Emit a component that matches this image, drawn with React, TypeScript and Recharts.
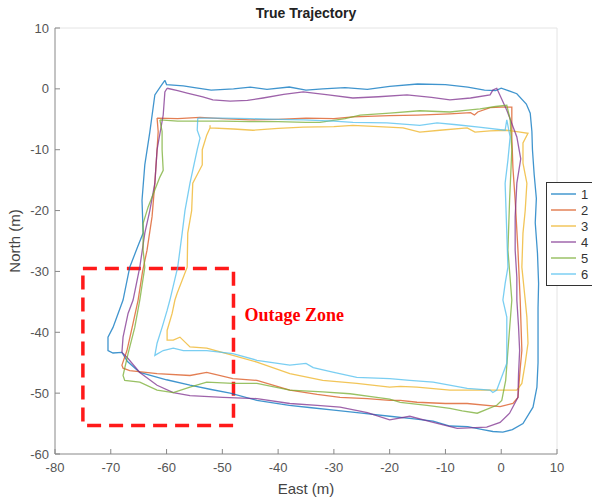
import { ScatterChart, Scatter, XAxis, YAxis, ReferenceArea, ReferenceLine } from 'recharts';

const xTicks = [-80, -70, -60, -50, -40, -30, -20, -10, 0, 10];
const yTicks = [-60, -50, -40, -30, -20, -10, 0, 10];
const seriesNames = ['1', '2', '3', '4', '5', '6'];
const seriesColors = ['#0072BD', '#D95319', '#EDB120', '#7E2F8E', '#77AC30', '#4DBEEE'];

// outage zone corners (m)
const zoneX = [-75, -48];
const zoneY = [-55.3, -29.5];

const pts = (a: number[][]) => a.map(([x, y]) => ({ x, y }));

const run1 = pts([
  [-60.3, 1.4], [-60, 0.7], [-57, 0.5], [-55, 0.2], [-52, -0.2], [-48, 0], [-45, 0.3], [-42, -0.1],
  [-38, 0.3], [-35, -0.2], [-32, 0], [-28, 0.2], [-24, -0.1], [-20, 0.4], [-15, 0.8], [-10, 0.7],
  [-6, 0.3], [-3, -0.2], [-1, -0.3], [0, 0.1], [1, -0.2], [2.8, -0.8], [4.5, -2.5], [5.2, -4],
  [5.5, -7], [5.6, -10], [5.9, -14], [6.3, -18], [6.1, -22], [6.5, -27], [6.7, -32], [6.6, -36],
  [6.6, -40], [6.6, -45], [6.4, -49], [5.7, -52.3], [3.9, -55], [2, -56], [0.3, -56.4], [-1.5, -56.3],
  [-3.3, -56], [-6, -55.5], [-9.2, -55.4], [-12.2, -54.6], [-16, -54.2], [-20, -53.8], [-25, -53.3],
  [-30, -52.8], [-34, -52.4], [-38, -52], [-43.8, -51.2], [-48.6, -50], [-52, -49.4], [-55.8, -48.7],
  [-60, -47.8], [-64.8, -46.6], [-67, -44.8], [-68, -43.3], [-69.6, -43.4], [-70.5, -43], [-70.5, -40.8],
  [-69.6, -39.2], [-67.8, -34.7], [-66.6, -29.3], [-65.2, -26], [-64.2, -23.7], [-64.4, -18.3],
  [-63.9, -12.5], [-63, -7.1], [-62.1, -1], [-61, 0.5], [-60.3, 1.4],
]);

const run2 = pts([
  [-61.7, -4.8], [-58, -4.9], [-54, -4.7], [-50, -4.9], [-45, -5.1], [-40, -5], [-35, -4.8], [-30, -4.9],
  [-26.6, -4.6], [-20, -4.4], [-15, -4.3], [-9.2, -4.1], [-5.5, -3.9], [-4.8, -4.3], [-4.2, -3.8],
  [-2, -3.1], [0, -3], [1.9, -3], [1.9, -7.9], [2.1, -13], [2.5, -18.3], [3, -26.5], [3.4, -34.7],
  [3.7, -43], [3.4, -46], [3, -50.7], [2.1, -51.7], [-0.2, -52.2], [-6.1, -51.7], [-10, -51.7],
  [-15.1, -51.5], [-18.1, -51.2], [-20, -51.2], [-24, -50.9], [-28.9, -50.7], [-33, -50.2], [-37.9, -49.5],
  [-43.8, -47.9], [-48.1, -47.6], [-52.8, -46.6], [-55.8, -47.1], [-61.7, -46.8], [-66.6, -46.3],
  [-67.8, -45.9], [-68, -45.4], [-67.1, -43], [-66, -38.5], [-65.1, -34.7], [-64.3, -30], [-63.5, -26.5],
  [-62.6, -21], [-62.1, -15.5], [-61.7, -10], [-61.5, -7], [-61.7, -4.8],
]);

const run3 = pts([
  [-52.2, -6], [-52.2, -6.4], [-48, -6.6], [-44.5, -6.8], [-40, -6.5], [-35.5, -6.3], [-30, -6.2],
  [-26.6, -6], [-22, -6.2], [-17.6, -6.4], [-14.6, -7.1], [-11, -6.8], [-6.1, -6.4], [-4.7, -7.1],
  [-2, -6.9], [1, -6.8], [3.4, -7.1], [4.8, -7.3], [3.9, -8.9], [3.9, -12.2], [4.6, -15.5], [4.3, -20],
  [3.9, -23.7], [3.7, -29.3], [4.3, -34.7], [4.6, -37.5], [4.8, -41.8], [4.3, -45.1], [3.7, -48.4],
  [2.8, -49.5], [-0.2, -49.5], [-2.6, -49.5], [-9.2, -49.5], [-15.1, -49], [-18.1, -48.9], [-20, -49],
  [-25.9, -48.4], [-32, -47.9], [-37.9, -46.8], [-43.8, -44.9], [-48.1, -43.8], [-52.8, -42.6],
  [-55.8, -42.4], [-57.6, -40.8], [-58.8, -41.3], [-59.9, -41.3], [-59.9, -39.7], [-59, -36.9],
  [-58.5, -34.7], [-58.1, -33.6], [-56.3, -29.3], [-56.2, -23.7], [-55.5, -20], [-55.3, -15.5],
  [-53.6, -12.5], [-53.6, -10], [-52.8, -7.6], [-52.2, -6.4],
]);

const run4 = pts([
  [-59.9, 0.1], [-58, -0.3], [-56.3, -0.7], [-53.5, -1.3], [-51.7, -1.8], [-48.6, -2], [-45.5, -1.9],
  [-42.7, -1.5], [-39, -0.9], [-35.5, -0.5], [-31, -1], [-26.6, -1.5], [-22, -1.3], [-16.9, -1],
  [-12.5, -1.4], [-9.2, -1.8], [-5.5, -1.5], [-2, -1], [-1.5, -0.2], [-0.8, 0.1], [1, -3.5], [2.8, -7.9],
  [3.5, -11.5], [2.8, -15.5], [2.5, -21], [2.5, -26.5], [2.8, -31], [2.8, -34.7], [3.1, -39], [3.3, -43],
  [3.1, -47], [3, -50.7], [1.5, -53.3], [-0.2, -54.8], [-2.6, -55.6], [-7.9, -55.8], [-12.2, -54.8],
  [-16.4, -53.8], [-20, -54.4], [-24, -53.2], [-28.9, -52.3], [-33, -52], [-37.9, -51.7], [-43.8, -50.9],
  [-49.9, -50.7], [-55.8, -50.4], [-58.8, -49.9], [-61.7, -48.7], [-64.8, -46.6], [-67.1, -44.1],
  [-68, -43.3], [-67.8, -40.8], [-66.9, -36.9], [-66, -34.7], [-64.8, -29.3], [-63.9, -23.7], [-63, -20],
  [-62.1, -15.5], [-61.7, -10], [-60.6, -4.3], [-60.3, -0.5], [-59.9, 0.1],
]);

const run5 = pts([
  [-61.2, -5.1], [-58, -5.3], [-54, -5.3], [-50, -5.3], [-45, -5.4], [-40, -5.4], [-35, -5.5],
  [-32.5, -5.5], [-28, -4.9], [-25.3, -4.3], [-20, -4], [-14.6, -3.6], [-9.2, -3.8], [-6, -3.5],
  [-3.8, -3.3], [-1, -2.9], [1, -2.7], [1.6, -5], [1.9, -10], [1.5, -18.3], [1.2, -26.5], [1.9, -34.7],
  [1.2, -43], [0.8, -47.9], [0.1, -51.2], [-0.8, -52], [-4.3, -53.3], [-7, -52.9], [-9.2, -52.5],
  [-13.3, -52], [-18.1, -51.5], [-20, -51], [-23, -50.6], [-27.1, -50.1], [-32, -49.8], [-37.9, -49.5],
  [-43.8, -48.4], [-48.1, -48.4], [-52.8, -48.2], [-55.8, -49], [-58.8, -49.9], [-61.7, -49.5],
  [-64.8, -48.2], [-67.5, -47.9], [-67.8, -47.1], [-66.9, -43.5], [-65.7, -39.2], [-64.8, -34.7],
  [-63.9, -29.3], [-64.2, -26.5], [-64.2, -22.1], [-63.3, -19.4], [-61.2, -14.5], [-60.6, -13.4],
  [-60.8, -10], [-60.8, -7], [-61.2, -5.1],
]);

const run6 = pts([
  [-54.4, -4.8], [-50, -4.8], [-45, -4.9], [-40, -5], [-35.5, -5.1], [-30, -5.3], [-26.6, -5.5],
  [-20.5, -5.6], [-14.6, -6], [-11.5, -5.6], [-8, -5.9], [-4, -6.3], [0.7, -6.8], [1, -5.1], [1.3, -6.5],
  [1.6, -7.9], [1.2, -11.7], [0.7, -15.5], [1, -23.7], [1.2, -29.3], [0.7, -32], [0.3, -34.7], [1, -37.5],
  [1, -43], [1, -45.1], [0.3, -46.8], [-0.8, -49.5], [-1.5, -49.9], [-2, -49.5], [-6.1, -49.2],
  [-12.2, -48.2], [-16.4, -47.9], [-20, -47.6], [-25.9, -47.4], [-30, -46.6], [-33.7, -45.8], [-35, -45.1],
  [-37.9, -45.4], [-43.8, -44.6], [-48.1, -43.5], [-52.8, -43], [-57, -43], [-58.8, -42.6], [-60.6, -43],
  [-62.1, -43.8], [-61.7, -41.8], [-60.8, -39.2], [-59.9, -36.4], [-59.4, -34.7], [-58, -29.3],
  [-57.2, -23.7], [-56.7, -20], [-55.8, -15.5], [-54.5, -10], [-54, -8.1], [-54.5, -6.8], [-54.4, -4.8],
]);

const runs = [run1, run2, run3, run4, run5, run6];

const font = 'Liberation Sans, Arial, sans-serif';
const noDot = () => <g />;

const zoneLabel = ({ viewBox }: any) => (
  <text x={viewBox.x + viewBox.width + 11} y={viewBox.y + 53} fill="#ff0000" fontFamily="Liberation Serif, Times New Roman, serif" fontWeight="bold" fontSize={18}>
    Outage Zone
  </text>
);

const yLabel = ({ viewBox }: any) => {
  const cy = viewBox.y + viewBox.height / 2;
  return (
    <text x={14} y={cy} transform={`rotate(-90 14 ${cy})`} textAnchor="middle" dominantBaseline="central" fill="#444" fontSize={15} fontFamily={font}>
      North (m)
    </text>
  );
};

const xLabel = ({ viewBox }: any) => (
  <text x={viewBox.x + viewBox.width / 2} y={494} textAnchor="middle" fill="#444" fontSize={15} fontFamily={font}>
    East (m)
  </text>
);

export default function App() {
  return (
    <div style={{ position: 'absolute', left: 0, top: 0, width: 592, height: 500, background: '#fff', overflow: 'hidden' }}>
      <div style={{ position: 'absolute', left: 55, width: 502, top: 5, textAlign: 'center', fontFamily: font, fontWeight: 'bold', fontSize: 14, color: '#222' }}>
        True Trajectory
      </div>
      <ScatterChart width={592} height={500} margin={{ top: 28, right: 35, left: 0, bottom: 0 }}>
        <XAxis type="number" dataKey="x" domain={[-80, 10]} ticks={xTicks} height={46}
          stroke="#888" tickSize={-5} tickMargin={14} tick={{ fill: '#555', fontSize: 13, fontFamily: font }}
          allowDataOverflow label={xLabel} />
        <YAxis type="number" dataKey="y" domain={[-60, 10]} ticks={yTicks} width={55}
          stroke="#888" tickSize={-5} tickMargin={11} tick={{ fill: '#555', fontSize: 13, fontFamily: font }}
          allowDataOverflow label={yLabel} />
        <ReferenceLine y={10} stroke="#e4e4e4" />
        <ReferenceLine x={10} stroke="#e4e4e4" />
        {runs.map((r, i) => (
          <Scatter key={i} name={seriesNames[i]} data={r} fill={seriesColors[i]} shape={noDot}
            line={{ stroke: seriesColors[i], strokeWidth: 1.3, strokeOpacity: 0.75 }} isAnimationActive={false} />
        ))}
        <ReferenceArea x1={zoneX[0]} x2={zoneX[1]} y1={zoneY[0]} y2={zoneY[1]} fill="none" fillOpacity={0}
          stroke="#ff1a1a" strokeWidth={3.5} strokeDasharray="14 8" label={zoneLabel} />
      </ScatterChart>
      <div style={{ position: 'absolute', left: 546, top: 182, border: '1px solid #333', background: '#fff', width: 54, padding: '3px 0', fontFamily: font, fontSize: 13, color: '#333' }}>
        {seriesNames.map((n, i) => (
          <div key={n} style={{ display: 'flex', alignItems: 'center', height: 16 }}>
            <span style={{ display: 'inline-block', width: 25, height: 0, borderTop: `2px solid ${seriesColors[i]}`, marginLeft: 4, marginRight: 5, opacity: 0.55 }} />
            <span>{n}</span>
          </div>
        ))}
      </div>
    </div>
  );
}
